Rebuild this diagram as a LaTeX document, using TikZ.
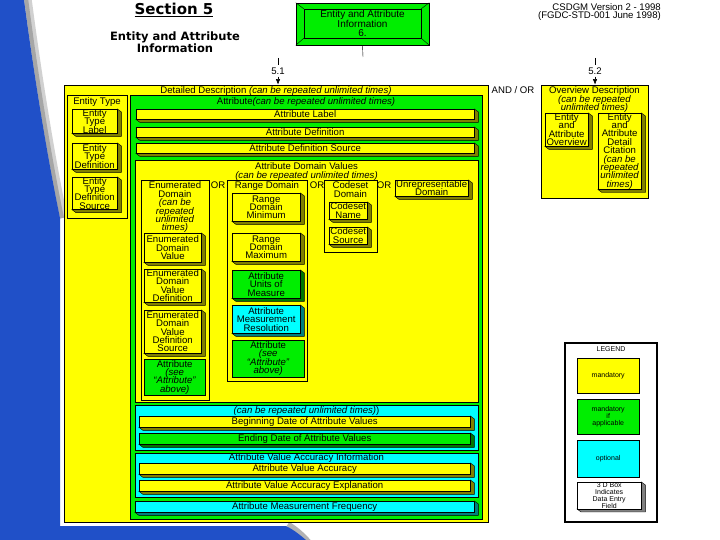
\documentclass[tikz,border=0pt]{standalone}
\usepackage{fontspec}
\setmainfont{Liberation Sans}
\newfontfamily\headfont{DejaVu Sans}
\usetikzlibrary{arrows.meta, positioning, fit}
\definecolor{csYellow}{HTML}{FFFF00}
\definecolor{csGreen}{HTML}{00EE00}
\definecolor{csCyan}{HTML}{00FFFF}
\definecolor{csBlue}{HTML}{2050C8}
\newcommand{\boxfont}{\fontsize{9.6}{8.4}\selectfont\lineskiplimit=-6pt}
\newcommand{\legfont}{\fontsize{7}{7.2}\selectfont\lineskiplimit=-6pt}
\tikzset{
  panel/.style={draw=black, fill=#1, inner sep=0pt, line width=0.6pt},
  flatbox/.style={
    draw=black, fill=#1, anchor=north west, inner sep=0pt,
    align=center, font=\boxfont
  },
  box3d/.style={
    flatbox=#1,
    append after command={\pgfextra{\pgfinterruptpath
      \filldraw[fill=#1!50!black, draw=black]
        (\tikzlastnode.north east) -- ++(4pt,-3pt)
        -- ([shift={(4pt,-3pt)}]\tikzlastnode.south east)
        -- ([shift={(4pt,-3pt)}]\tikzlastnode.south west)
        -- (\tikzlastnode.south west) -- (\tikzlastnode.south east) -- cycle;
      \endpgfinterruptpath}}
  },
  wh/.style 2 args={minimum width=#1pt, minimum height=#2pt},
  paneltitle/.style={font=\boxfont, align=center, inner sep=0pt},
  arr/.style={-{Latex[length=2mm, width=1.6mm]}, semithick}
}

\begin{document}
\begin{tikzpicture}[x=1pt, y=-1pt,
  orlabel/.style={font=\boxfont, inner sep=0pt},
  legtext/.style={font=\legfont, align=center, inner sep=0pt}
]
\useasboundingbox (0,0) rectangle (720,540);

% slide background
\fill[white] (0,0) rectangle (720,540);
\draw[black!18, line width=9pt] (27,-2) .. controls (39,90) and (53,170) .. (63,218);
\draw[black!35, line width=4pt] (26,-2) .. controls (38,90) and (52,170) .. (62,218);
\draw[black!30, line width=5pt] (288,524) .. controls (296,529) and (302,534) .. (309,542);
\fill[csBlue] (0,0) -- (24,0) .. controls (36,90) and (50,170) .. (60,218)
  -- (60,526) -- (286,526) .. controls (294,530) and (300,535) .. (306,540)
  -- (0,540) -- cycle;

% headings
\node[font=\headfont\bfseries\fontsize{15}{16}\selectfont] (sect) at (174,10) {\underline{Section 5}};
\node[font=\headfont\bfseries\fontsize{11.5}{12.5}\selectfont, align=center] (secttitle) at (175,42) {Entity and Attribute\\Information};
\node[font=\boxfont, align=right, anchor=north east, inner sep=0pt] (version) at (661,3) {CSDGM Version 2 - 1998\\(FGDC-STD-001 June 1998)};

% top box
\node[panel=csGreen, fit={(296,3) (429,45)}] (eainfo) {};
\node[draw=black, inner sep=0pt, fit={(304,9) (421,38)}] (eainner) {};
\foreach \c in {north west, north east, south west, south east}
  \draw (eainfo.\c) -- (eainner.\c);
\node[paneltitle, font=\fontsize{10}{8.6}\selectfont] (eatext) at (eainner) {Entity and Attribute\\Information\\6.};
\coordinate (tick0) at (363,57);
\draw (eainfo.south) -- (tick0);

% detailed description
\node[panel=csYellow, fit={(64,85) (488,522)}] (detail) {};
\node[paneltitle, below=2pt of detail.north] (detailtitle) {Detailed Description \textit{(can be repeated unlimited times)}};

\node[panel=csYellow, fit={(67,95) (127,218)}] (etype) {};
\node[paneltitle, below=3pt of etype.north] (etypetitle) {Entity Type};
\node[box3d=csYellow, wh={45}{24}] (etlabel) at (72,109) {Entity\\Type\\Label};
\node[box3d=csYellow, wh={45}{26}] (etdef) at (72,143) {Entity\\Type\\Definition};
\node[box3d=csYellow, wh={45}{31}] (etsource) at (72,177) {Entity\\Type\\Definition\\Source};

\node[panel=csGreen, fit={(130,95) (482,519)}] (attr) {};
\node[paneltitle, below=3pt of attr.north] (attrtitle) {Attribute\textit{(can be repeated unlimited times)}};
\node[box3d=csYellow, wh={338}{10}] (alabel) at (136,109) {Attribute Label};
\node[box3d=csYellow, wh={338}{10}] (adef) at (136,127) {Attribute Definition};
\node[box3d=csYellow, wh={338}{10}] (adefsrc) at (136,143) {Attribute Definition Source};

\node[panel=csYellow, fit={(135,160) (478,402)}] (domvals) {};
\node[paneltitle, below=3pt of domvals.north] (domtitle) {Attribute Domain Values\\\textit{(can be repeated unlimited times)}};

\node[panel=csYellow, fit={(141,180) (209,400)}] (enumdom) {};
\node[paneltitle, below=2pt of enumdom.north] (enumtitle) {Enumerated\\Domain\\\textit{(can be}\\\textit{repeated}\\\textit{unlimited}\\\textit{times)}};
\node[box3d=csYellow, wh={57}{29}] (edv) at (144,233) {Enumerated\\Domain\\Value};
\node[box3d=csYellow, wh={57}{33}] (edvdef) at (144,269) {Enumerated\\Domain\\Value\\Definition};
\node[box3d=csYellow, wh={57}{43}] (edvsrc) at (144,310) {Enumerated\\Domain\\Value\\Definition\\Source};
\node[flatbox=csGreen, wh={61}{36}] (enumattr) at (144,359) {Attribute\\\textit{(see}\\\textit{“Attribute”}\\\textit{above)}};

\node[orlabel] (or1) at (218,185) {OR};
\node[orlabel] (or2) at (317,185) {OR};
\node[orlabel] (or3) at (384,185) {OR};

\node[panel=csYellow, fit={(227,180) (307,381)}] (rangedom) {};
\node[paneltitle, below=2pt of rangedom.north] (rangetitle) {Range Domain};
\node[box3d=csYellow, wh={68}{28}] (rdmin) at (232,193) {Range\\Domain\\Minimum};
\node[box3d=csYellow, wh={68}{28}] (rdmax) at (232,233) {Range\\Domain\\Maximum};
\node[box3d=csGreen, wh={68}{28}] (units) at (232,270) {Attribute\\Units of\\Measure};
\node[box3d=csCyan, wh={68}{28}] (resol) at (232,305) {Attribute\\Measurement\\Resolution};
\node[flatbox=csGreen, wh={72}{37}] (rangeattr) at (232,340) {Attribute\\\textit{(see}\\\textit{“Attribute”}\\\textit{above)}};

\node[panel=csYellow, fit={(324,180) (377,252)}] (codedom) {};
\node[paneltitle, below=2pt of codedom.north] (codetitle) {Codeset\\Domain};
\node[box3d=csYellow, wh={38}{17}] (codename) at (329,202) {Codeset\\Name};
\node[box3d=csYellow, wh={38}{17}] (codesrc) at (329,227) {Codeset\\Source};

\node[box3d=csYellow, wh={73}{16}] (unrep) at (395,180) {Unrepresentable\\Domain};

\node[panel=csCyan, fit={(135,405) (478,450)}] (datebox) {};
\node[paneltitle, below=2pt of datebox.north] (datetitle) {\textit{(can be repeated unlimited times)})};
\node[box3d=csYellow, wh={331}{11}] (begdate) at (139,416) {Beginning Date of Attribute Values};
\node[box3d=csGreen, wh={331}{11}] (enddate) at (139,433) {Ending Date of Attribute Values};

\node[panel=csCyan, fit={(135,453) (478,497)}] (accbox) {};
\node[paneltitle, below=1pt of accbox.north] (acctitle) {Attribute Value Accuracy Information};
\node[box3d=csYellow, wh={331}{11}] (accval) at (139,463) {Attribute Value Accuracy};
\node[box3d=csYellow, wh={331}{11}] (accexp) at (139,480) {Attribute Value Accuracy Explanation};

\node[box3d=csCyan, wh={339}{11}] (freq) at (135,501) {Attribute Measurement Frequency};

% overview description
\node[orlabel] (andor) at (513,90) {AND / OR};
\node[panel=csYellow, fit={(541,85) (648,198)}] (overview) {};
\node[paneltitle, below=2pt of overview.north] (overtitle) {Overview Description\\\textit{(can be repeated}\\\textit{unlimited times)}};
\node[box3d=csYellow, wh={43}{33}] (eaover) at (545,113) {Entity\\and\\Attribute\\Overview};
\node[box3d=csYellow, wh={43}{73}] (eacite) at (598,113) {Entity\\and\\Attribute\\Detail\\Citation\\\textit{(can be}\\\textit{repeated}\\\textit{unlimited}\\\textit{times)}};

% section numbers
\node[orlabel] (lbl51) at (278,71) {5.1};
\coordinate (t51) at (278,58);
\draw (t51) -- ([yshift=2pt]lbl51.north);
\draw[arr] ([yshift=-2pt]lbl51.south) -- (lbl51.south |- detail.north);
\node[orlabel] (lbl52) at (595,71) {5.2};
\coordinate (t52) at (595,58);
\draw (t52) -- ([yshift=2pt]lbl52.north);
\draw[arr] ([yshift=-2pt]lbl52.south) -- (lbl52.south |- overview.north);

% legend
\node[panel=white, line width=1.6pt, fit={(565,343) (657,522)}] (legend) {};
\node[legtext, below=4pt of legend.north] (legtitle) {LEGEND};
\node[flatbox=csYellow, wh={62}{35}, font=\legfont] (legmand) at (577,358) {mandatory};
\node[flatbox=csGreen, wh={62}{35}, font=\legfont] (legif) at (577,399) {mandatory\\if\\applicable};
\node[flatbox=csCyan, wh={62}{37}, font=\legfont] (legopt) at (577,440) {optional};
\node[box3d=white, wh={64}{26}, font=\legfont] (leg3d) at (577,482) {3 D Box\\Indicates\\Data Entry\\Field};

\end{tikzpicture}
\end{document}
